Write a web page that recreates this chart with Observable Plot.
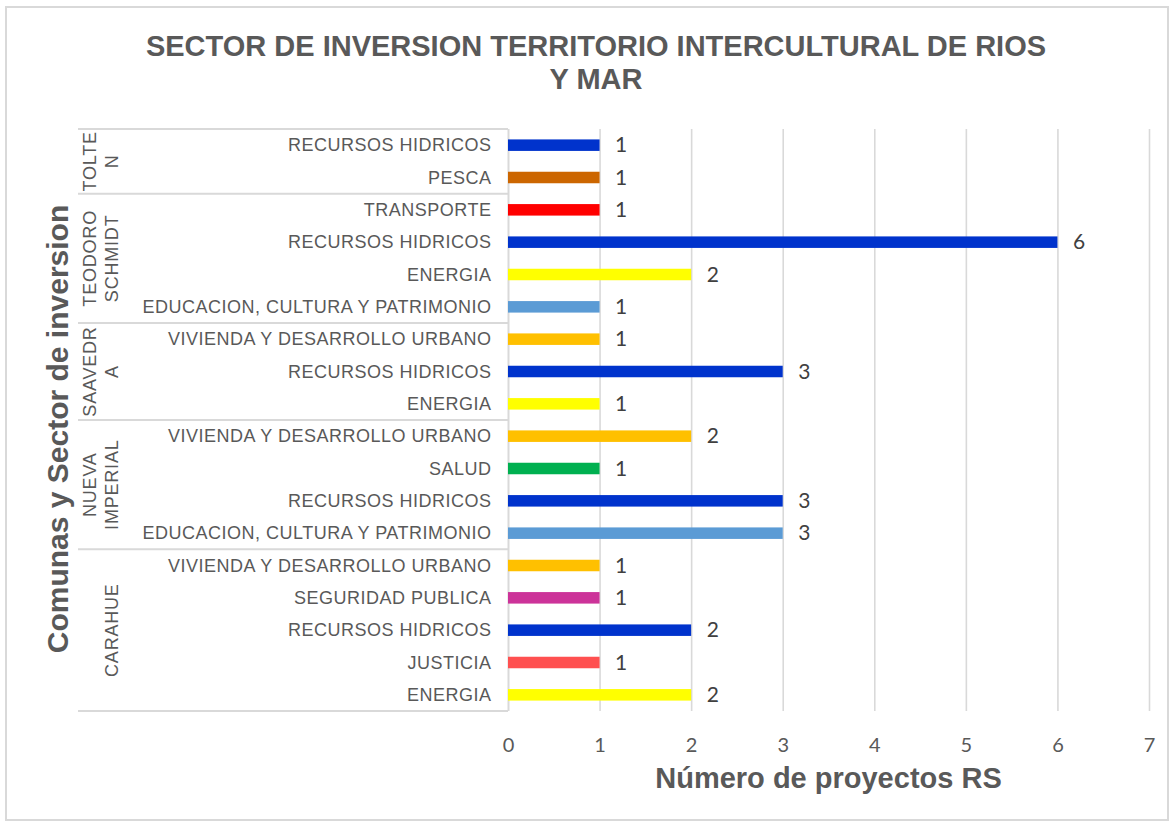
<!DOCTYPE html>
<html>
<head>
<meta charset="utf-8">
<script src="https://cdn.jsdelivr.net/npm/d3@7"></script>
<script src="https://cdn.jsdelivr.net/npm/@observablehq/plot@0.6"></script>
<style>
  html, body { margin: 0; padding: 0; background: #ffffff; }
  #wrap { position: relative; width: 1174px; height: 826px; overflow: hidden; background: #fff; }
  #frame { position: absolute; left: 5px; top: 6px; width: 1164px; height: 815px; box-sizing: border-box; border: 2px solid #d9d9d9; }
  #title { position: absolute; left: 0; top: 30px; width: 1174px; padding-left: 18px; box-sizing: border-box;
           text-align: center; font-family: "Liberation Sans", Arial, sans-serif; font-weight: bold;
           font-size: 29px; line-height: 33px; color: #595959; }
  #chart { position: absolute; left: 0; top: 0; }
</style>
</head>
<body>
<div id="wrap">
  <div id="frame"></div>
  <div id="chart"></div>
  <div id="title">SECTOR DE INVERSION TERRITORIO INTERCULTURAL DE RIOS<br>Y MAR</div>
</div>
<script>
// ---- data (top to bottom) ----
const comunaNames = ["TOLTEN", "TEODORO SCHMIDT", "SAAVEDRA", "NUEVA IMPERIAL", "CARAHUE"];
const comunaLabelLines = [["TOLTE", "N"], ["TEODORO", "SCHMIDT"], ["SAAVEDR", "A"], ["NUEVA", "IMPERIAL"], ["CARAHUE"]];
const rowComuna = [
  "TOLTEN", "TOLTEN",
  "TEODORO SCHMIDT", "TEODORO SCHMIDT", "TEODORO SCHMIDT", "TEODORO SCHMIDT",
  "SAAVEDRA", "SAAVEDRA", "SAAVEDRA",
  "NUEVA IMPERIAL", "NUEVA IMPERIAL", "NUEVA IMPERIAL", "NUEVA IMPERIAL",
  "CARAHUE", "CARAHUE", "CARAHUE", "CARAHUE", "CARAHUE"
];
const rowSector = [
  "RECURSOS HIDRICOS", "PESCA",
  "TRANSPORTE", "RECURSOS HIDRICOS", "ENERGIA", "EDUCACION, CULTURA Y PATRIMONIO",
  "VIVIENDA Y DESARROLLO URBANO", "RECURSOS HIDRICOS", "ENERGIA",
  "VIVIENDA Y DESARROLLO URBANO", "SALUD", "RECURSOS HIDRICOS", "EDUCACION, CULTURA Y PATRIMONIO",
  "VIVIENDA Y DESARROLLO URBANO", "SEGURIDAD PUBLICA", "RECURSOS HIDRICOS", "JUSTICIA", "ENERGIA"
];
const rowValue = [1, 1, 1, 6, 2, 1, 1, 3, 1, 2, 1, 3, 3, 1, 1, 2, 1, 2];
const xTicks = [0, 1, 2, 3, 4, 5, 6, 7];

// ---- palette ----
const paletteSectors = ["RECURSOS HIDRICOS", "PESCA", "TRANSPORTE", "ENERGIA", "EDUCACION, CULTURA Y PATRIMONIO",
  "VIVIENDA Y DESARROLLO URBANO", "SALUD", "SEGURIDAD PUBLICA", "JUSTICIA"];
const paletteColors = ["#0033CC", "#CC6600", "#FF0000", "#FFFF00", "#5B9BD5", "#FFC000", "#00B050", "#CC3399", "#FF5050"];
const colorOf = s => paletteColors[paletteSectors.indexOf(s)];

const rows = rowSector.map((s, i) => ({key: String(i), comuna: rowComuna[i], sector: s, value: rowValue[i]}));

const arial = '"Liberation Sans", Arial, sans-serif';
const calib = 'Lato, "Open Sans", sans-serif';

const plot = Plot.plot({
  width: 1174,
  height: 826,
  marginTop: 129,
  marginBottom: 115,
  marginLeft: 508,
  marginRight: 25,
  style: {background: "transparent", color: "#595959", overflow: "visible"},
  x: {domain: [0, 7]},
  y: {domain: rows.map(d => d.key), paddingInner: 0.644, paddingOuter: 0.322, round: false},
  color: {type: "identity"},
  marks: [
    Plot.gridX(xTicks.slice(1), {stroke: "#d9d9d9", strokeOpacity: 1, strokeWidth: 1.6}),
    Plot.ruleX([0], {stroke: "#d9d9d9", strokeWidth: 2}),
    Plot.barX(rows, {x: "value", y: "key", fill: d => colorOf(d.sector)}),
    Plot.text(rows, {x: "value", y: "key", text: d => String(d.value), dx: 15, textAnchor: "start",
      fill: "#404040", fontSize: 21, fontFamily: calib}),
    Plot.axisX(xTicks, {tickSize: 0, tickPadding: 26, fontSize: 20, fontFamily: calib, label: null}),
    Plot.axisY({tickSize: 0, tickPadding: 17, tickFormat: k => rows[+k].sector, fontSize: 18,
      fontFamily: arial, label: null})
  ]
});

document.getElementById("chart").appendChild(plot);

const svg = d3.select(plot);
svg.selectAll('g[aria-label="y-axis tick label"] text').style("letter-spacing", "0.5px");

// ---- group separators and labels, placed through the plot's y scale ----
const ys = plot.scale("y");
const n = rows.length;
const r0 = 129, r1 = 826 - 115;
const step = ys.step != null ? ys.step : (r1 - r0) / n;
const bw = ys.bandwidth != null ? ys.bandwidth : step * (1 - 0.644);
const center = k => (ys.apply ? ys.apply(k) : r0 + step * (+k + 0.322)) + bw / 2;

const deco = svg.append("g");
const sepX1 = 78, sepX2 = 508;
const bounds = [];
comunaNames.forEach((c, gi) => {
  const idx = rows.filter(d => d.comuna === c).map(d => d.key);
  const top = center(idx[0]) - step / 2;
  const bot = center(idx[idx.length - 1]) + step / 2;
  bounds.push(top, bot);
  const cy = (top + bot) / 2;
  const lines = comunaLabelLines[gi];
  const bxs = lines.length === 2 ? [96, 118] : [118];
  lines.forEach((t, j) => {
    deco.append("text")
      .attr("transform", `translate(${bxs[j]},${cy}) rotate(-90)`)
      .attr("text-anchor", "middle")
      .attr("fill", "#595959")
      .style("font-family", arial)
      .style("font-size", "18px")
      .style("letter-spacing", "0.8px")
      .text(t);
  });
});
[...new Set(bounds.map(b => Math.round(b * 10) / 10))].forEach(y => {
  deco.append("line").attr("x1", sepX1).attr("x2", sepX2).attr("y1", y).attr("y2", y)
    .attr("stroke", "#d9d9d9").attr("stroke-width", 2);
});

// ---- axis titles ----
deco.append("text")
  .attr("x", (508 + 1149) / 2).attr("y", 788)
  .attr("text-anchor", "middle").attr("fill", "#595959")
  .style("font-family", arial).style("font-weight", "bold").style("font-size", "29px")
  .text("Número de proyectos RS");

deco.append("text")
  .attr("transform", "translate(68,429) rotate(-90)")
  .attr("text-anchor", "middle").attr("fill", "#595959")
  .style("font-family", arial).style("font-weight", "bold").style("font-size", "30px")
  .text("Comunas y Sector de inversion");
</script>
</body>
</html>
